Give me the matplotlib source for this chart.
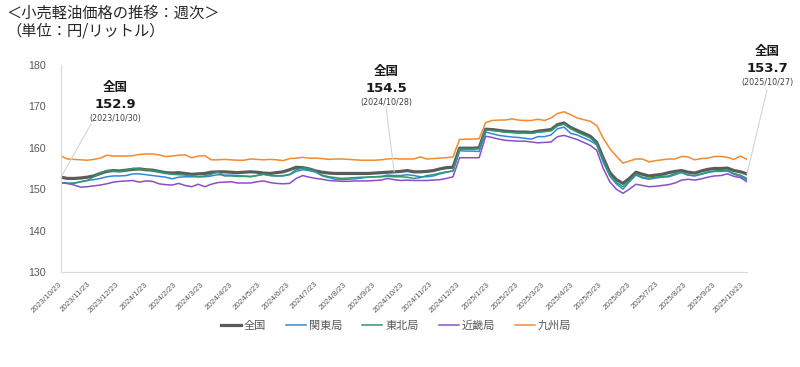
import pandas as pd
import matplotlib.pyplot as plt

# weekly dates (Mondays)
dates = pd.date_range("2023-10-23", periods=106, freq="7D")

zenkoku = [152.9, 152.6, 152.6, 152.7, 152.9, 153.2, 153.8, 154.3, 154.5, 154.4,
           154.6, 154.8, 154.9, 154.7, 154.6, 154.3, 154.0, 153.9, 154.0, 153.8,
           153.6, 153.7, 153.8, 154.1, 154.2, 154.2, 154.1, 154.0, 154.1, 154.2,
           154.1, 153.9, 153.8, 154.0, 154.2, 154.7, 155.3, 155.2, 154.9, 154.4,
           154.1, 153.9, 153.8, 153.8, 153.8, 153.8, 153.8, 153.8, 153.9, 154.0,
           154.1, 154.2, 154.3, 154.5, 154.2, 154.2, 154.3, 154.5, 154.9, 155.2,
           155.3, 159.9, 159.9, 159.9, 160.0, 164.5, 164.4, 164.2, 164.0, 163.9,
           163.8, 163.8, 163.7, 164.0, 164.2, 164.4, 165.6, 166.0, 164.9, 164.2,
           163.5, 162.8, 161.3, 157.5, 154.0, 152.3, 151.4, 152.6, 154.1, 153.6,
           153.2, 153.4, 153.6, 154.0, 154.3, 154.5, 154.1, 153.9, 154.4, 154.8,
           155.0, 155.0, 155.1, 154.5, 154.2, 153.7]

kanto = [151.5, 151.4, 151.4, 151.8, 152.1, 152.3, 152.6, 153.0, 153.2, 153.2,
         153.3, 153.7, 153.7, 153.5, 153.3, 153.1, 152.9, 152.5, 152.9, 153.0,
         153.0, 153.0, 153.0, 153.2, 153.5, 153.4, 153.4, 153.3, 153.2, 153.1,
         153.3, 153.6, 153.3, 153.2, 153.2, 153.5, 154.3, 154.7, 154.5, 154.1,
         153.2, 152.8, 152.4, 152.3, 152.4, 152.5, 152.7, 152.9, 153.0, 153.1,
         153.4, 153.3, 153.3, 153.5, 153.3, 153.0, 153.0, 153.2, 153.7, 154.1,
         154.4, 159.3, 159.2, 159.2, 159.1, 163.8, 163.4, 163.0, 162.8, 162.6,
         162.5, 162.3, 162.1, 162.7, 162.7, 163.1, 164.6, 165.0, 163.5, 163.1,
         162.4, 161.7, 160.7, 156.5, 153.2, 151.3, 150.0, 151.8, 153.4, 152.7,
         152.4, 152.7, 152.9, 153.0, 153.5, 154.1, 153.4, 153.2, 153.6, 154.0,
         154.3, 154.3, 154.4, 153.6, 153.1, 152.2]

tohoku = [151.6, 151.4, 151.5, 151.8, 152.1, 153.0, 153.9, 154.4, 154.4, 154.3,
          154.6, 155.0, 154.9, 154.7, 154.5, 154.2, 153.9, 153.6, 153.5, 153.4,
          153.3, 153.0, 153.2, 153.6, 154.2, 153.2, 153.2, 153.1, 153.1, 153.0,
          153.3, 153.6, 153.3, 153.2, 153.3, 153.6, 154.7, 155.1, 154.9, 154.3,
          153.4, 153.0, 152.8, 152.6, 152.7, 152.8, 152.9, 152.9, 153.0, 153.0,
          153.1, 153.0, 153.0, 152.9, 152.6, 152.8, 153.3, 153.5, 153.9, 154.2,
          154.4, 159.7, 159.7, 159.7, 159.8, 164.3, 164.2, 164.0, 163.8, 163.7,
          163.6, 163.6, 163.5, 163.8, 163.9, 164.1, 165.3, 165.7, 164.6, 163.8,
          163.1, 162.4, 161.0, 157.0, 153.4, 151.6, 150.6, 152.0, 153.6, 152.9,
          152.6, 152.9, 153.1, 153.2, 153.8, 154.0, 153.4, 153.3, 153.7, 154.2,
          154.4, 154.5, 154.6, 153.8, 153.4, 152.6]

kinki = [151.6, 151.4, 151.0, 150.5, 150.6, 150.8, 151.0, 151.3, 151.7, 151.9,
         152.0, 152.1, 151.7, 152.0, 151.9, 151.3, 151.1, 151.0, 151.4, 150.9,
         150.6, 151.2, 150.6, 151.2, 151.6, 151.7, 151.8, 151.5, 151.5, 151.5,
         151.8, 152.0, 151.6, 151.4, 151.3, 151.4, 152.6, 153.3, 152.9, 152.6,
         152.4, 152.1, 152.0, 151.9, 151.9, 152.0, 152.0, 152.0, 152.1, 152.2,
         152.6, 152.3, 152.1, 152.2, 152.1, 152.1, 152.1, 152.2, 152.3, 152.6,
         153.0, 157.6, 157.6, 157.6, 157.6, 162.8, 162.5, 162.1, 161.8, 161.7,
         161.6, 161.6, 161.4, 161.2, 161.3, 161.4, 162.7, 163.0, 162.5, 162.0,
         161.3, 160.6, 159.4, 155.0, 151.8, 150.0, 149.0, 150.0, 151.2, 150.9,
         150.6, 150.7, 150.9, 151.1, 151.5, 152.2, 152.4, 152.2, 152.5, 152.9,
         153.2, 153.3, 153.7, 153.1, 152.8, 151.8]

kyushu = [158.0, 157.3, 157.2, 157.1, 157.0, 157.2, 157.5, 158.2, 158.0, 158.0,
          158.0, 158.1, 158.4, 158.5, 158.5, 158.3, 157.9, 158.0, 158.2, 158.3,
          157.6, 158.0, 158.1, 157.1, 157.1, 157.2, 157.1, 157.0, 157.0, 157.3,
          157.2, 157.1, 157.2, 157.1, 156.9, 157.4, 157.5, 157.7, 157.5, 157.5,
          157.4, 157.2, 157.3, 157.3, 157.2, 157.1, 157.0, 157.0, 157.0, 157.1,
          157.3, 157.4, 157.3, 157.3, 157.3, 157.8, 157.3, 157.4, 157.5, 157.6,
          157.8, 162.0, 162.1, 162.1, 162.2, 166.1, 166.6, 166.7, 166.7, 167.0,
          166.7, 166.6, 166.6, 166.9, 166.6, 167.2, 168.3, 168.7, 168.0, 167.2,
          166.8, 166.4, 165.4, 162.3, 159.8, 158.0, 156.3, 156.8, 157.3, 157.3,
          156.6, 156.9, 157.1, 157.3, 157.3, 157.9, 157.8, 157.1, 157.4, 157.5,
          157.9, 157.9, 157.7, 157.2, 158.0, 157.2]

series_names = ["全国", "関東局", "東北局", "近畿局", "九州局"]
series_values = [zenkoku, kanto, tohoku, kinki, kyushu]
colors = ["#5b5b5b", "#2f8ad6", "#2f9a6c", "#8b4fc4", "#f28a2e"]
widths = [2.3, 1.1, 1.1, 1.1, 1.1]

# monthly tick marks on the 23rd
tick_dates = pd.date_range("2023-10-01", "2025-10-01", freq="MS") + pd.Timedelta(days=22)
tick_labels = [f"{d.year}/{d.month}/{d.day}" for d in tick_dates]

# callouts: (week index, value label, date label, text centre px, leader start px, leader end week)
callouts = [
    (0, "152.9", "(2023/10/30)", (115, 88), (91, 124), 0),
    (53, "154.5", "(2024/10/28)", (386, 72), (386, 107), 51),
    (105, "153.7", "(2025/10/27)", (767, 52), (767, 90), 105),
]

jp = ["Noto Sans CJK JP", "DejaVu Sans"]
W, H = 800, 367

fig = plt.figure(figsize=(8, 3.67), dpi=100)
ax = fig.add_axes([61 / W, 1 - 272 / H, (747 - 61) / W, (272 - 65) / H])

for name, vals, c, lw in zip(series_names, series_values, colors, widths):
    ax.plot(dates, vals, color=c, linewidth=lw, label=name, solid_joinstyle="round")

ax.set_ylim(130, 180)
ax.set_yticks(range(130, 181, 10))
ax.set_xlim(dates[0], dates[-1])
ax.set_xticks(tick_dates)
ax.set_xticklabels(tick_labels, rotation=45, ha="right", va="center",
                   rotation_mode="anchor", fontsize=5.8, color="#595959",
                   family=["Liberation Sans", "DejaVu Sans"])
for lab in ax.get_yticklabels():
    lab.set_family(["Liberation Sans", "DejaVu Sans"])
ax.tick_params(axis="y", length=0, pad=11, labelsize=7.7, labelcolor="#595959")
ax.tick_params(axis="x", length=0, pad=8)

for s in ["top", "right"]:
    ax.spines[s].set_visible(False)
for s in ["left", "bottom"]:
    ax.spines[s].set_color("#d9d9d9")
    ax.spines[s].set_linewidth(0.9)

# title
fig.text(6 / W, 1 - 13 / H, "＜小売軽油価格の推移：週次＞", family=jp, fontsize=11,
         color="#262626", va="center", ha="left")
fig.text(6 / W, 1 - 31 / H, "（単位：円/リットル）", family=jp, fontsize=11,
         color="#262626", va="center", ha="left")

# callouts
for wk, val, dlab, (cx, cy), (lx, ly), end_wk in callouts:
    fig.text(cx / W, 1 - cy / H, "全国", family=jp, fontsize=9, fontweight="bold",
             color="#1a1a1a", ha="center", va="center")
    fig.text(cx / W, 1 - (cy + 17) / H, val, family="DejaVu Sans", fontsize=9.5,
             fontweight="bold", color="#1a1a1a", ha="center", va="center")
    fig.text(cx / W, 1 - (cy + 30) / H, dlab, family="DejaVu Sans", fontsize=5.8,
             color="#404040", ha="center", va="center")
    ax.annotate("", xy=(dates[end_wk], zenkoku[end_wk]), xycoords="data",
                xytext=(lx / W, 1 - ly / H), textcoords="figure fraction",
                arrowprops=dict(arrowstyle="-", color="#d4d4d4", lw=0.8,
                                shrinkA=0, shrinkB=0))

leg = fig.legend(loc="center", bbox_to_anchor=(396 / W, 1 - 326 / H), ncol=5,
                 frameon=False, handlelength=1.8, handletextpad=0.25,
                 columnspacing=1.8, prop={"family": jp, "size": 8})
for t in leg.get_texts():
    t.set_color("#595959")

fig.savefig("out.png", dpi=100)
plt.close(fig)
